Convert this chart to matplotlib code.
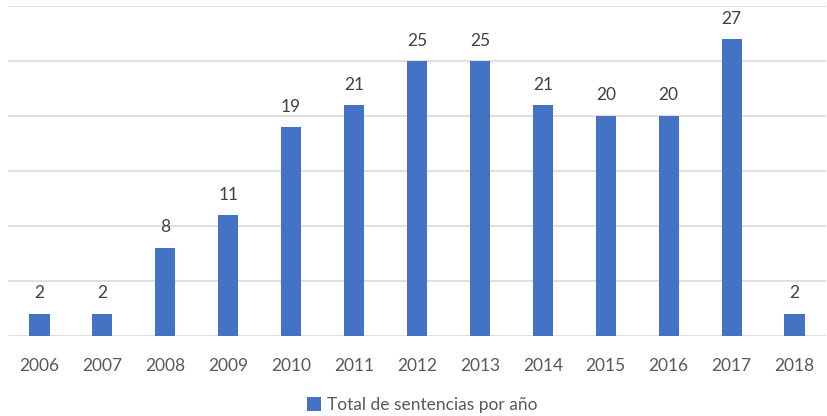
import matplotlib.pyplot as plt

years = ['2006', '2007', '2008', '2009', '2010', '2011', '2012',
         '2013', '2014', '2015', '2016', '2017', '2018']
totals = [2, 2, 8, 11, 19, 21, 25, 25, 21, 20, 20, 27, 2]

plt.rcParams['font.family'] = ['Lato', 'DejaVu Sans']

fig = plt.figure(figsize=(8.28, 4.16), dpi=100)
ax = fig.add_axes([8 / 828, 1 - 336 / 416, 818 / 828, 330 / 416])

bars = ax.bar(range(len(years)), totals, width=0.32, color='#4472C4',
              label='Total de sentencias por año', zorder=3)

ax.set_xlim(-0.5, len(years) - 0.5)
ax.set_ylim(0, 30)
ax.set_yticks([0, 5, 10, 15, 20, 25, 30])
ax.yaxis.grid(True, color='#D9D9D9', linewidth=1.2, zorder=0)
ax.tick_params(axis='y', left=False, labelleft=False)
ax.tick_params(axis='x', bottom=False, labelsize=12.5, labelcolor='#595959', pad=12)
ax.set_xticks(range(len(years)))
ax.set_xticklabels(years)
for s in ax.spines.values():
    s.set_visible(False)

for b, v in zip(bars, totals):
    ax.annotate(str(v), (b.get_x() + b.get_width() / 2, v), xytext=(0, 9),
                textcoords='offset points', ha='center', va='bottom',
                fontsize=12.5, color='#404040')

fig.legend(loc='center', bbox_to_anchor=(0.51, 1 - 405 / 416), frameon=False,
           fontsize=12.5, handlelength=0.8, handleheight=0.8, handletextpad=0.3,
           labelcolor='#595959')

fig.savefig('out.png', dpi=100)
